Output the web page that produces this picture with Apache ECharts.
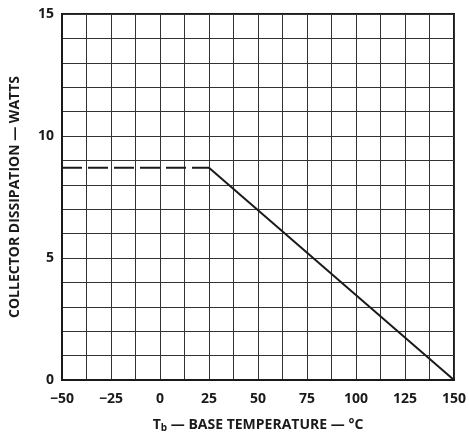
<!DOCTYPE html>
<html>
<head>
<meta charset="utf-8">
<script src="https://cdn.jsdelivr.net/npm/echarts@6/dist/echarts.min.js"></script>
<style>
  html, body { margin: 0; padding: 0; background: #fff; }
  #chart { width: 469px; height: 438px; }
</style>
</head>
<body>
<div id="chart"></div>
<script>
// derating curve
const flatTemps = [-50, 25]
const flatWatts = [8.7, 8.7]
const slopeTemps = [25, 150]
const slopeWatts = [8.7, 0]
const xTicks = [-50, -25, 0, 25, 50, 75, 100, 125, 150]
const yTicks = [0, 5, 10, 15]

const font = 'Open Sans'
const ink = '#1a1a1a'

const chart = echarts.init(document.getElementById('chart'))
chart.setOption({
  animation: false,
  grid: {
    left: 58, right: 14, top: 14, bottom: 54,
    show: true,
    borderColor: ink,
    borderWidth: 2,
  },
  xAxis: {
    type: 'value',
    min: -50,
    max: 150,
    interval: 12.5,
    name: '{t|T}{s|b}{t| — BASE TEMPERATURE — °C}',
    nameLocation: 'middle',
    nameGap: 37,
    nameTextStyle: {
      rich: {
        t: { fontFamily: font, fontWeight: 'bold', fontSize: 14, color: ink },
        s: { fontFamily: font, fontWeight: 'bold', fontSize: 10, color: ink, padding: [6, 0, 0, 0] },
      },
    },
    axisLine: { show: true, onZero: false, lineStyle: { color: ink, width: 2 } },
    axisTick: { show: false },
    axisLabel: {
      margin: 12,
      fontFamily: font,
      fontWeight: 'bold',
      fontSize: 14,
      color: ink,
      formatter: v => (xTicks.indexOf(v) >= 0 ? String(v).replace('-', '−') : ''),
    },
    splitLine: { show: true, lineStyle: { color: '#333', width: 1 } },
  },
  yAxis: {
    type: 'value',
    min: 0,
    max: 15,
    interval: 1,
    name: 'COLLECTOR DISSIPATION — WATTS',
    nameLocation: 'middle',
    nameGap: 40,
    nameTextStyle: { fontFamily: font, fontWeight: 'bold', fontSize: 14, color: ink },
    axisLine: { show: true, onZero: false, lineStyle: { color: ink, width: 2 } },
    axisTick: { show: false },
    axisLabel: {
      margin: 8,
      fontFamily: font,
      fontWeight: 'bold',
      fontSize: 14,
      color: ink,
      formatter: v => (yTicks.indexOf(v) >= 0 ? String(v) : ''),
    },
    splitLine: { show: true, lineStyle: { color: '#333', width: 1 } },
  },
  series: [
    {
      type: 'line',
      data: flatTemps.map((t, i) => [t, flatWatts[i]]),
      symbol: 'none',
      lineStyle: { color: ink, width: 2, type: [20, 6] },
    },
    {
      type: 'line',
      data: slopeTemps.map((t, i) => [t, slopeWatts[i]]),
      symbol: 'none',
      lineStyle: { color: ink, width: 2 },
    },
  ],
})
</script>
</body>
</html>
